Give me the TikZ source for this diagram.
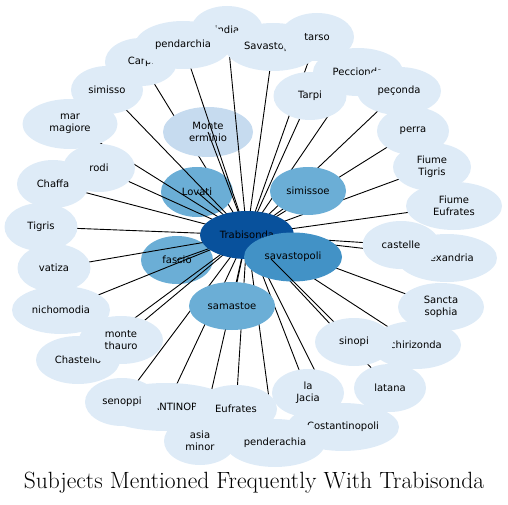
\documentclass[tikz,border=0pt]{standalone}
\usepackage{fontspec}
\usetikzlibrary{shapes.geometric}
\newfontfamily\nodefont{DejaVu Sans}
\definecolor{blA}{HTML}{DEEBF7}
\definecolor{blB}{HTML}{C6DBEF}
\definecolor{blC}{HTML}{6BAED6}
\definecolor{blD}{HTML}{4292C6}
\definecolor{blE}{HTML}{08519C}
\pgfdeclarelayer{lone}
\pgfdeclarelayer{ltwo}
\pgfdeclarelayer{lthree}
\pgfsetlayers{lone,ltwo,lthree,main}
\begin{document}
\begin{tikzpicture}[x=1pt,y=-1pt,
  nd/.style={ellipse, inner sep=0pt, minimum width=72pt, minimum height=48pt,
    font=\nodefont\fontsize{10}{12}\selectfont, align=center, text=black},
  lt/.style={nd, fill=blA},
  md/.style={nd, fill=blC},
  edge/.style={line width=0.9pt, black}]
\useasboundingbox (0,0) rectangle (508,505);
% middle nodes below edges
\begin{pgfonlayer}{ltwo}
\node[nd, fill=blB, minimum width=90pt, minimum height=50pt] (monteerm) at (208,132) {Monte\\erminio};
\node[md, minimum height=50pt] (lovati) at (197,192) {Lovati};
\node[md] (fascio) at (177,260) {fascio};
\end{pgfonlayer}
% light nodes
\node[lt] (india) at (227,30) {india};
\node[lt, minimum width=96pt] (savU) at (273,47) {Savastopoli};
\node[lt, minimum width=74pt] (tarso) at (317,37) {tarso};
\node[lt] (carpi) at (141,62) {Carpi};
\node[lt, minimum width=96pt] (pendarchia) at (183,45) {pendarchia};
\node[lt] (simisso) at (107,90) {simisso};
\node[lt, minimum width=95pt, minimum height=50pt] (marmag) at (70,124) {mar\\magiore};
\node[lt] (rodi) at (99,168) {rodi};
\node[lt] (chaffa) at (53,184) {Chaffa};
\node[lt, minimum width=73pt] (tigris) at (41,227) {Tigris};
\node[lt, minimum width=73pt] (vatiza) at (54,268) {vatiza};
\node[lt, minimum width=98pt] (nichomodia) at (61,310) {nichomodia};
\node[lt, minimum width=84pt] (chastello) at (78,360) {Chastello};
\node[lt, minimum width=84pt] (montethauro) at (121,340) {monte\\thauro};
\node[lt, minimum width=138pt] (constU) at (166,407) {CONSTANTINOPOLI};
\node[lt, minimum width=74pt] (senoppi) at (122,402) {senoppi};
\node[lt, minimum width=82pt] (eufrates) at (236,409) {Eufrates};
\node[lt] (asiaminor) at (200,441) {asia\\minor};
\node[lt, minimum width=112pt] (costantinopoli) at (343,427) {Costantinopoli};
\node[lt, minimum width=100pt] (penderachia) at (275,443) {penderachia};
\node[lt] (lajacia) at (308,393) {la\\Jacia};
\node[lt] (latana) at (390,388) {latana};
\node[lt, minimum width=90pt] (chirizonda) at (416,345) {chirizonda};
\node[lt, minimum width=78pt] (sinopi) at (354,342) {sinopi};
\node[lt, minimum width=86pt] (sancta) at (441,307) {Sancta\\sophia};
\node[lt, minimum width=100pt] (alexandria) at (447,258) {Alexandria};
\node[lt, minimum width=77pt] (castelle) at (401,245) {castelle};
\node[lt, minimum width=96pt] (fiumeeuf) at (454,206) {Fiume\\Eufrates};
\node[lt, minimum width=78pt] (fiumetig) at (432,167) {Fiume\\Tigris};
\node[lt] (perra) at (413,131) {perra};
\node[lt, minimum width=90pt] (peccionda) at (358,72) {Peccionda};
\node[lt, minimum width=84pt] (peconda) at (399,91) {peçonda};
\node[lt, minimum width=73pt] (tarpi) at (310,96) {Tarpi};
% medium nodes above edges
\node[md, minimum width=76pt] (simissoe) at (308,191) {simissoe};
\node[md, minimum width=86pt] (samastoe) at (232,306) {samastoe};
\node[nd, fill=blE, minimum width=94pt] (T) at (247,235) {Trabisonda};
\node[nd, fill=blD, minimum width=98pt, minimum height=49pt] (savastopoli) at (293,257) {savastopoli};
% edges
\begin{pgfonlayer}{lone}
\draw[edge] (T.center) -- (carpi.center);
\end{pgfonlayer}
\begin{pgfonlayer}{lthree}
\foreach \n in {monteerm,lovati,fascio,india,savU,tarso,pendarchia,simisso,marmag,rodi,chaffa,tigris,vatiza,nichomodia,chastello,montethauro,constU,senoppi,eufrates,asiaminor,penderachia,costantinopoli,lajacia,latana,chirizonda,sinopi,sancta,alexandria,castelle,fiumeeuf,fiumetig,perra,peccionda,peconda,tarpi,simissoe,samastoe,savastopoli}
  \draw[edge] (T.center) -- (\n.center);
\end{pgfonlayer}
% part of the sinopi edge drawn over savastopoli
\begin{scope}
\clip (savastopoli.center) ellipse [x radius=49pt, y radius=24.5pt];
\draw[edge, shorten <=34pt] (T.center) -- (sinopi.center);
\end{scope}
\node[font=\fontsize{23.5}{27}\selectfont] (title) at (254,483) {Subjects Mentioned Frequently With Trabisonda};
\end{tikzpicture}
\end{document}
